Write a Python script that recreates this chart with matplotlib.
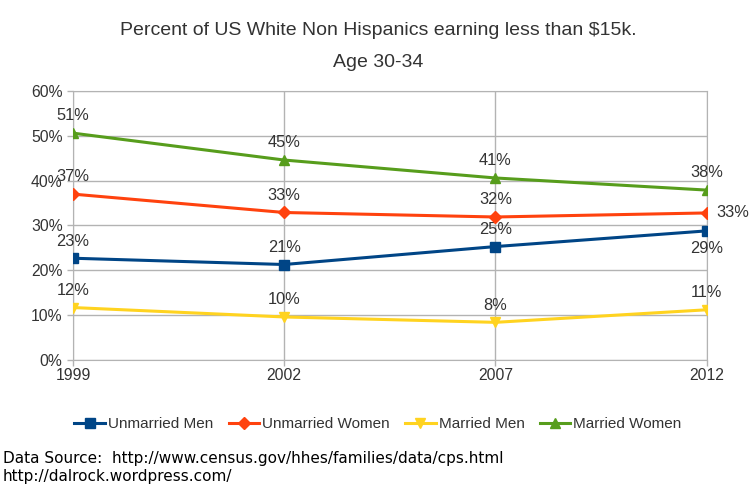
import numpy as np
import matplotlib
matplotlib.use("Agg")
import matplotlib.pyplot as plt
from matplotlib.ticker import PercentFormatter

plt.rcParams['font.family'] = ['Liberation Sans', 'DejaVu Sans']

years = ["1999", "2002", "2007", "2012"]
unmarried_men = [22.7, 21.3, 25.3, 28.8]
unmarried_women = [37.0, 32.9, 31.9, 32.8]
married_men = [11.7, 9.6, 8.4, 11.2]
married_women = [50.6, 44.6, 40.6, 37.9]

series = [
    ("Unmarried Men", unmarried_men, "#004586", "s", 7),
    ("Unmarried Women", unmarried_women, "#ff420e", "D", 6),
    ("Married Men", married_men, "#ffd320", "v", 7.5),
    ("Married Women", married_women, "#579d1c", "^", 7.5),
]

fig = plt.figure(figsize=(7.56, 4.9), dpi=100)
ax = fig.add_axes([0.0966, 0.2653, 0.838, 0.549])

x = np.arange(len(years))
text_color = "#333333"
for name, vals, color, marker, ms in series:
    ax.plot(x, vals, color=color, lw=2.2, marker=marker, ms=ms, zorder=3, label=name)
    for i, v in enumerate(vals):
        lab = f"{round(v):.0f}%"
        if name == "Unmarried Women" and i == 3:
            ax.annotate(lab, (x[i], v), xytext=(7, 0), textcoords='offset points',
                        ha='left', va='center', fontsize=11.8, color=text_color)
        elif name == "Unmarried Men" and i == 3:
            ax.annotate(lab, (x[i], v), xytext=(0, -7), textcoords='offset points',
                        ha='center', va='top', fontsize=11.8, color=text_color)
        else:
            ax.annotate(lab, (x[i], v), xytext=(0, 7), textcoords='offset points',
                        ha='center', va='bottom', fontsize=11.8, color=text_color)

ax.set_xlim(0, 3)
ax.set_ylim(0, 60)
ax.set_yticks(np.arange(0, 61, 10))
ax.yaxis.set_major_formatter(PercentFormatter(decimals=0))
ax.set_xticks(x)
ax.set_xticklabels(years)
ax.grid(axis='both', color='#b3b3b3', lw=1)
for s in ax.spines.values():
    s.set_color('#b3b3b3')
ax.tick_params(axis='both', colors='#b3b3b3', labelcolor=text_color, labelsize=11.3, length=4, width=1)
ax.tick_params(axis='x', pad=2)
ax.set_axisbelow(True)

fig.text(0.5, 0.938, "Percent of US White Non Hispanics earning less than $15k.", ha='center', va='center',
         fontsize=14, color=text_color)
fig.text(0.5, 0.873, "Age 30-34", ha='center', va='center', fontsize=14, color=text_color)

fig.legend(loc='center', bbox_to_anchor=(0.5, 0.135), ncol=4, frameon=False, fontsize=11,
           handlelength=2.0, handletextpad=0.2, columnspacing=1.0, labelcolor=text_color)

fig.text(0.004, 0.065, "Data Source:  http://www.census.gov/hhes/families/data/cps.html", ha='left', va='center',
         fontsize=11, color='black', family='DejaVu Sans')
fig.text(0.004, 0.028, "http://dalrock.wordpress.com/", ha='left', va='center', fontsize=11, color='black',
         family='DejaVu Sans')

fig.savefig("out.png", dpi=100)
